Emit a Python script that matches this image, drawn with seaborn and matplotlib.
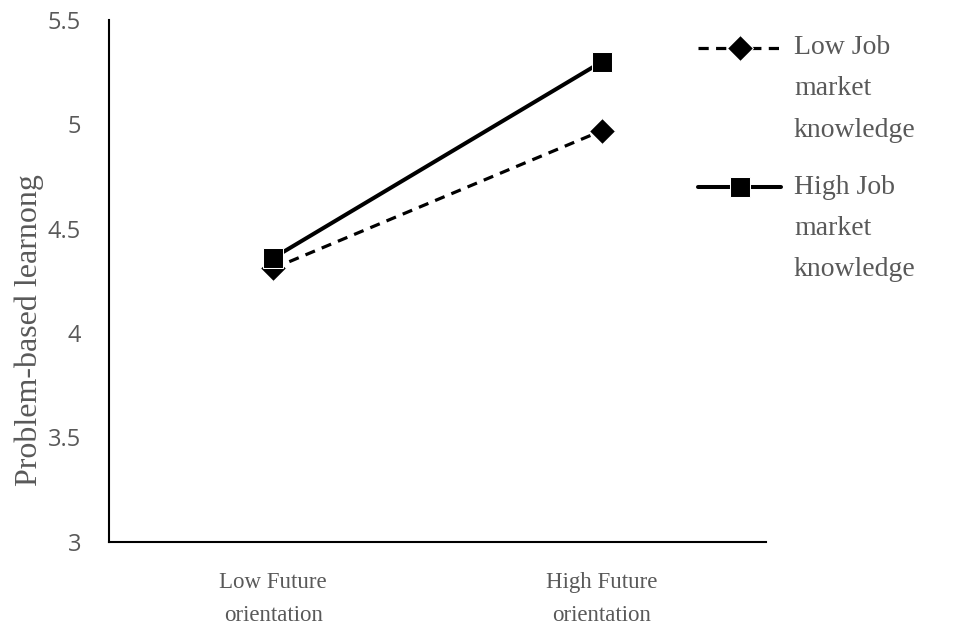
import pandas as pd
import matplotlib.pyplot as plt
import seaborn as sns
from matplotlib.lines import Line2D
from matplotlib.legend_handler import HandlerLine2D

# values
fo_levels = ["Low Future\norientation", "High Future\norientation"]
groups = ["Low Job\nmarket\nknowledge", "High Job\nmarket\nknowledge"]
low_jmk = [4.31, 4.97]
high_jmk = [4.36, 5.30]

df = pd.DataFrame({
    "x": [0, 1, 0, 1],
    "y": low_jmk + high_jmk,
    "group": [groups[0]] * 2 + [groups[1]] * 2,
})


class TopLineHandler(HandlerLine2D):
    # put the legend line level with the first text line, not the middle one
    def __init__(self, shift, **kw):
        super().__init__(**kw)
        self.shift = shift

    def create_artists(self, legend, orig_handle, xdescent, ydescent,
                       width, height, fontsize, trans):
        # line y = (height - ydescent) / 2, so shift twice the wanted amount
        return super().create_artists(legend, orig_handle, xdescent,
                                      ydescent - 2 * self.shift, width, height,
                                      fontsize, trans)


sns.set_style("white")
plt.rcParams['font.family'] = ['Liberation Serif', 'DejaVu Serif']

fig = plt.figure(figsize=(9.54, 6.3), dpi=100)
ax = fig.add_axes([0.114, 0.14, 0.689, 0.828])

sns.lineplot(data=df, x="x", y="y", hue="group", style="group",
             palette=["black", "black"],
             markers={groups[0]: "D", groups[1]: "s"},
             dashes={groups[0]: (3.2, 2.3), groups[1]: ""},
             markersize=13, linewidth=2.3, ax=ax, legend=True)
ax.get_legend().remove()
ax.lines[1].set_linewidth(2.9)
ax.lines[1].set_markersize(14.5)

ax.set_xlim(-0.5, 1.5)
ax.set_ylim(3, 5.5)
ax.set_xticks([0, 1])
ax.set_xticklabels(fo_levels, fontsize=16.5, color="#595959", linespacing=1.75)
ax.set_yticks([3, 3.5, 4, 4.5, 5, 5.5])
ax.set_yticklabels(["3", "3.5", "4", "4.5", "5", "5.5"],
                   fontsize=17, color="#595959", family=["Open Sans", "DejaVu Sans"])
ax.tick_params(axis="both", length=0)
ax.tick_params(axis="y", pad=20)
ax.tick_params(axis="x", pad=22)
ax.set_xlabel("")
ax.set_ylabel("Problem-based learnong", fontsize=23, color="#595959")
ax.yaxis.set_label_coords(-0.098, 0.406)

sns.despine(ax=ax)
for s in ["left", "bottom"]:
    ax.spines[s].set_color("black")
    ax.spines[s].set_linewidth(1.5)

handles = ax.lines[:2]
fs = 20
leg = fig.legend(handles, groups, loc="upper left", bbox_to_anchor=(0.7317, 0.944),
                 frameon=False, fontsize=fs, handlelength=3.0, labelspacing=1.16,
                 handletextpad=0.45, borderaxespad=0, borderpad=0,
                 handler_map={Line2D: TopLineHandler(shift=41 * 0.72)})
for t in leg.get_texts():
    t.set_color("#595959")
    t.set_linespacing(1.85)

fig.savefig("out.png", dpi=100)
